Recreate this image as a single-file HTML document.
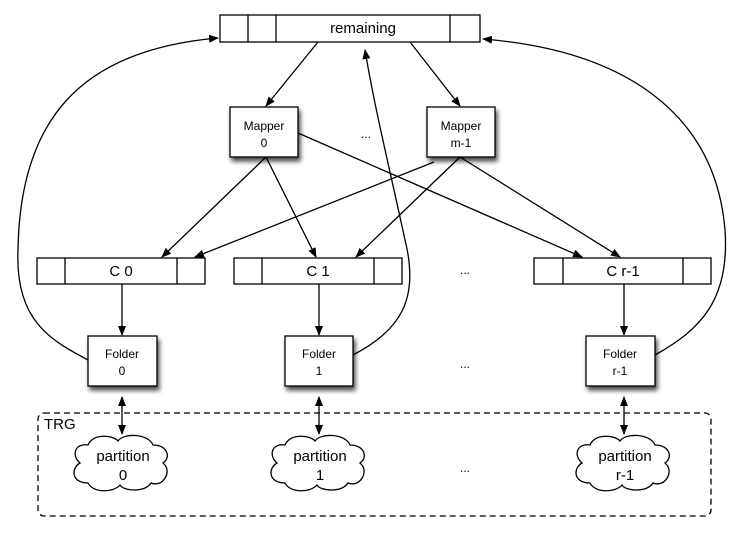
<!DOCTYPE html>
<html><head><style>body{margin:0;background:#fff}svg{display:block}text{font-family:"Liberation Sans",sans-serif;fill:#000}</style></head>
<body>
<svg width="747" height="533" viewBox="0 0 747 533" xmlns="http://www.w3.org/2000/svg">
<defs>
<marker id="a" markerWidth="10" markerHeight="8" refX="9" refY="4" orient="auto" markerUnits="userSpaceOnUse"><path d="M0,0 L10,4 L0,8 z" fill="#000"/></marker>
<marker id="s" markerWidth="10" markerHeight="8" refX="1" refY="4" orient="auto" markerUnits="userSpaceOnUse"><path d="M10,0 L0,4 L10,8 z" fill="#000"/></marker>
<filter id="sh" x="-20%" y="-20%" width="150%" height="150%"><feGaussianBlur in="SourceAlpha" stdDeviation="2.5"/><feOffset dx="2" dy="4"/><feComponentTransfer><feFuncA type="linear" slope="0.7"/></feComponentTransfer><feMerge><feMergeNode/><feMergeNode in="SourceGraphic"/></feMerge></filter>
</defs>
<!-- clouds -->
<g stroke="#000" stroke-width="1.3" fill="#fff">
<path id="c" d="M-35,-18 C-30,-30 -10,-28 -5,-22 C0,-30 25,-30 30,-18 C45,-18 48,-5 40,0 C50,8 40,25 28,20 C22,30 0,28 -3,22 C-10,30 -30,30 -35,20 C-52,20 -52,5 -43,0 C-52,-8 -48,-20 -35,-18 z" transform="translate(123,463)"/>
<use href="#c" transform="translate(197,0)"/>
<use href="#c" transform="translate(502,0)"/>
</g>
<g stroke="#000" stroke-width="1.3" fill="none">
<rect x="220" y="15" width="260" height="27" fill="#fff"/>
<line x1="248" y1="15" x2="248" y2="42"/><line x1="276" y1="15" x2="276" y2="42"/><line x1="450" y1="15" x2="450" y2="42"/>
<rect x="37" y="258" width="168" height="26" fill="#fff"/><line x1="65" y1="258" x2="65" y2="284"/><line x1="177" y1="258" x2="177" y2="284"/>
<rect x="234" y="258" width="168" height="26" fill="#fff"/><line x1="262" y1="258" x2="262" y2="284"/><line x1="374" y1="258" x2="374" y2="284"/>
<rect x="534" y="258" width="177" height="26" fill="#fff"/><line x1="563" y1="258" x2="563" y2="284"/><line x1="683" y1="258" x2="683" y2="284"/>
<line x1="318" y1="42" x2="266" y2="106" marker-end="url(#a)"/>
<line x1="410" y1="42" x2="460" y2="106" marker-end="url(#a)"/>
<line x1="298" y1="133" x2="582" y2="257" marker-end="url(#a)"/>
<line x1="266" y1="157" x2="162" y2="257" marker-end="url(#a)"/>
<line x1="266" y1="157" x2="316" y2="257" marker-end="url(#a)"/>
<line x1="434" y1="162" x2="195" y2="257" marker-end="url(#a)"/>
<line x1="460" y1="157" x2="356" y2="257" marker-end="url(#a)"/>
<line x1="460" y1="157" x2="620" y2="257" marker-end="url(#a)"/>
<line x1="122" y1="284" x2="122" y2="335" marker-end="url(#a)"/>
<line x1="319" y1="284" x2="319" y2="335" marker-end="url(#a)"/>
<line x1="624" y1="284" x2="624" y2="335" marker-end="url(#a)"/>
<path d="M88,360 C50,340 15,320 18,250 C20,120 80,50 218,38" marker-end="url(#a)"/>
<path d="M353,355 C400,330 420,300 405,240 C390,170 375,110 365,50" marker-end="url(#a)"/>
<path d="M655,355 C700,330 730,300 725,230 C715,110 620,50 483,39" marker-end="url(#a)"/>
<line x1="122" y1="397" x2="122" y2="434" marker-start="url(#s)" marker-end="url(#a)"/>
<line x1="319" y1="397" x2="319" y2="434" marker-start="url(#s)" marker-end="url(#a)"/>
<line x1="624" y1="397" x2="624" y2="434" marker-start="url(#s)" marker-end="url(#a)"/>
<rect x="38" y="413" width="673" height="103" rx="6" stroke-dasharray="6,4"/>
</g>
<g stroke="#000" stroke-width="1.3" fill="#fff" filter="url(#sh)">
<rect x="230" y="107" width="68" height="50"/>
<rect x="427" y="107" width="68" height="50"/>
<rect x="88" y="336" width="69" height="50"/>
<rect x="285" y="336" width="68" height="50"/>
<rect x="586" y="336" width="69" height="50"/>
</g>
<g font-size="15" text-anchor="middle">
<text x="363" y="33">remaining</text>
<text x="121" y="276">C 0</text>
<text x="318" y="276">C 1</text>
<text x="623" y="276">C r-1</text>
<text x="123" y="461">partition</text><text x="123" y="480">0</text>
<text x="320" y="461">partition</text><text x="320" y="480">1</text>
<text x="625" y="461">partition</text><text x="625" y="480">r-1</text>
</g>
<g font-size="12" text-anchor="middle">
<text x="264" y="130">Mapper</text><text x="264" y="147">0</text>
<text x="461" y="130">Mapper</text><text x="461" y="147">m-1</text>
<text x="122" y="358">Folder</text><text x="122" y="375">0</text>
<text x="319" y="358">Folder</text><text x="319" y="375">1</text>
<text x="620" y="358">Folder</text><text x="620" y="375">r-1</text>
<text x="366" y="138">...</text>
<text x="465" y="274">...</text>
<text x="465" y="368">...</text>
<text x="465" y="472">...</text>
</g>
<text x="44" y="429" font-size="15">TRG</text>
</svg>
</body></html>
